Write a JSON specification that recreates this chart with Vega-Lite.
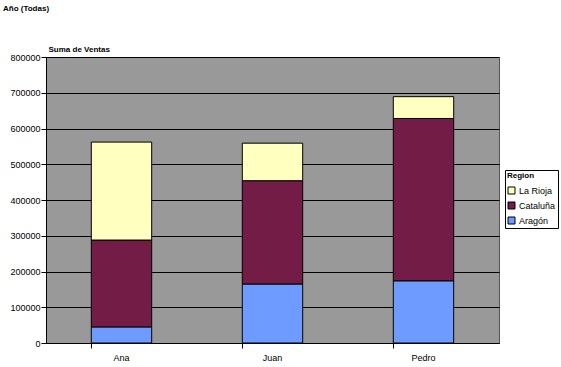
{
  "$schema": "https://vega.github.io/schema/vega-lite/v6.json",
  "width": 453,
  "height": 286,
  "autosize": {"type": "none"},
  "padding": {"left": 46, "top": 57, "right": 62, "bottom": 24},
  "background": "white",
  "title": {"text": "Año  (Todas)", "anchor": "start", "frame": "group", "dx": -43, "fontSize": 8, "fontWeight": "bold", "font": "Liberation Sans", "color": "black", "offset": 32},
  "config": {
    "view": {"fill": "#999999", "stroke": "#555555", "strokeWidth": 1},
    "font": "Liberation Sans"
  },
  "data": {
    "values": [
      {"Vendedor": "Ana", "Region": "Aragón", "Ventas": 45000},
      {"Vendedor": "Ana", "Region": "Cataluña", "Ventas": 243000},
      {"Vendedor": "Ana", "Region": "La Rioja", "Ventas": 274000},
      {"Vendedor": "Juan", "Region": "Aragón", "Ventas": 165000},
      {"Vendedor": "Juan", "Region": "Cataluña", "Ventas": 289000},
      {"Vendedor": "Juan", "Region": "La Rioja", "Ventas": 105000},
      {"Vendedor": "Pedro", "Region": "Aragón", "Ventas": 174000},
      {"Vendedor": "Pedro", "Region": "Cataluña", "Ventas": 454000},
      {"Vendedor": "Pedro", "Region": "La Rioja", "Ventas": 61000}
    ]
  },
  "mark": {"type": "bar", "stroke": "black", "strokeWidth": 1},
  "encoding": {
    "x": {
      "field": "Vendedor", "type": "nominal",
      "scale": {"paddingInner": 0.6, "paddingOuter": 0.3},
      "axis": {"title": null, "labelAngle": 0, "labelFontSize": 9, "labelColor": "black", "tickColor": "black", "domainColor": "black", "tickSize": 5, "labelPadding": 5, "bandPosition": 0}
    },
    "y": {
      "field": "Ventas", "type": "quantitative",
      "scale": {"domain": [0, 800000]},
      "axis": {
        "values": [0, 100000, 200000, 300000, 400000, 500000, 600000, 700000, 800000],
        "format": "d",
        "labelFontSize": 9, "labelColor": "black", "labelPadding": 1,
        "tickColor": "black", "tickSize": 5, "domainColor": "black",
        "gridColor": "black", "gridWidth": 1, "gridOpacity": 1,
        "title": "Suma de Ventas", "titleAngle": 0, "titleX": 2, "titleY": -4,
        "titleAlign": "left", "titleBaseline": "bottom", "titleFontSize": 8, "titleFontWeight": "bold", "titleColor": "black"
      }
    },
    "color": {
      "field": "Region", "type": "nominal",
      "scale": {"domain": ["La Rioja", "Cataluña", "Aragón"], "range": ["#FFFFBF", "#731C45", "#6D9BFF"]},
      "legend": {
        "title": "Region", "orient": "none", "legendX": 459, "legendY": 113,
        "fillColor": "white", "strokeColor": "black", "padding": 2,
        "titleFontSize": 8, "titleFontWeight": "bold", "titleColor": "black", "titlePadding": 6,
        "labelFontSize": 9, "labelColor": "black", "labelOffset": 3,
        "symbolType": "square", "symbolSize": 49, "symbolStrokeColor": "black", "symbolStrokeWidth": 1,
        "rowPadding": 4
      }
    },
    "order": {"field": "Region", "sort": "ascending"}
  }
}
